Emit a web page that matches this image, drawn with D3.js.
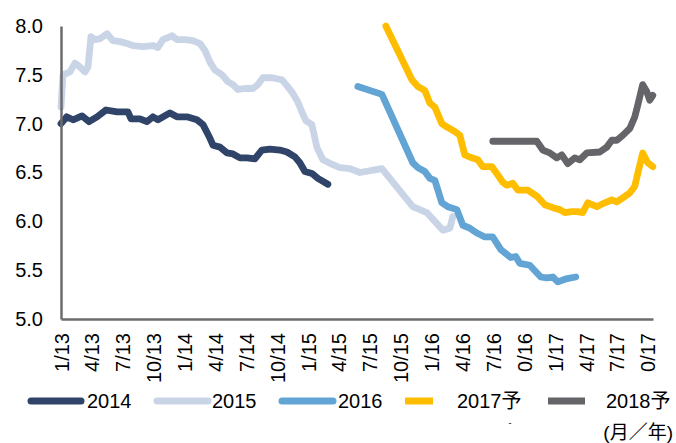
<html>
<head>
<meta charset="utf-8">
<title>Forecast lines</title>
<style>
  body { margin: 0; background: #fff; }
  text { font-family: "Liberation Sans", Arial, "Noto Sans CJK JP", sans-serif; fill: #000; }
  .line { fill: none; stroke-width: 6.8; stroke-linejoin: round; stroke-linecap: round; }
</style>
</head>
<body>
<script src="https://d3js.org/d3.v7.min.js"></script>
<script>
// x = months since Jan 2013, y = value
var xTickMonths = [0, 3, 6, 9, 12, 15, 18, 21, 24, 27, 30, 33, 36, 39, 42, 45, 48, 51, 54, 57];
var xLabels = ["1/13", "4/13", "7/13", "10/13", "1/14", "4/14", "7/14", "10/14", "1/15", "4/15",
               "7/15", "10/15", "1/16", "4/16", "7/16", "0/16", "1/17", "4/17", "7/17", "0/17"];
var yTicks = [5.0, 5.5, 6.0, 6.5, 7.0, 7.5, 8.0];

var seriesNames = ["2014", "2015", "2016", "2017予", "2018予"];
var seriesColors = ["#2F4468", "#C9D5E7", "#62A5D5", "#FFBD00", "#646469"];

var s2014 = [[0,7.00],[0.55,7.07],[1.17,7.04],[2.04,7.08],[2.72,7.02],[3.5,7.07],[4.37,7.14],[5.44,7.12],
  [6.5,7.12],[6.8,7.05],[7.67,7.05],[8.35,7.02],[8.93,7.07],[9.42,7.04],[10.58,7.11],[11.26,7.07],
  [12.23,7.07],[13.2,7.04],[13.79,6.99],[14.47,6.85],[14.76,6.78],[15.44,6.76],[16.12,6.70],[16.7,6.69],
  [17.38,6.65],[18.06,6.65],[18.83,6.64],[19.51,6.73],[20.29,6.74],[21.26,6.73],[21.94,6.71],[22.72,6.66],
  [23.2,6.60],[23.69,6.51],[24.37,6.49],[24.95,6.44],[25.92,6.38]];

var s2015 = [[0,7.17],[0.19,7.50],[0.87,7.53],[1.36,7.62],[1.84,7.58],[2.33,7.53],[2.62,7.58],[2.91,7.89],
  [3.3,7.86],[3.79,7.87],[4.47,7.92],[5.05,7.85],[5.73,7.84],[6.41,7.82],[6.99,7.80],[7.96,7.79],
  [8.93,7.80],[9.42,7.78],[9.9,7.86],[10.78,7.90],[11.26,7.86],[12.04,7.86],[12.82,7.85],[13.5,7.82],
  [13.98,7.75],[14.47,7.63],[14.95,7.55],[15.63,7.50],[16.21,7.43],[16.7,7.40],[17.18,7.35],[17.86,7.36],
  [18.64,7.36],[19.13,7.40],[19.61,7.47],[20.49,7.47],[21.46,7.45],[21.94,7.39],[22.52,7.31],[23.01,7.22],
  [23.4,7.12],[23.79,7.03],[24.37,6.99],[24.85,6.76],[25.44,6.63],[26.41,6.58],[27.09,6.55],[28.06,6.54],
  [29.03,6.50],[31.17,6.54],[34.17,6.15],[35.53,6.09],[36.31,6.00],[37.09,5.91],[37.77,5.93],[38.06,6.05]];

var s2016 = [[28.83,7.38],[31.17,7.30],[34.17,6.60],[34.66,6.55],[35.34,6.51],[35.83,6.44],[36.31,6.42],
  [36.99,6.19],[37.57,6.15],[38.45,6.12],[39.03,5.96],[39.71,5.93],[40.39,5.88],[41.17,5.84],[41.94,5.84],
  [42.72,5.71],[43.69,5.63],[44.17,5.64],[44.56,5.57],[45.53,5.55],[46.6,5.43],[47.18,5.42],[47.77,5.43],
  [48.25,5.38],[49.03,5.41],[50.0,5.43]];

var s2017 = [[31.55,8.00],[34.08,7.45],[34.66,7.38],[35.34,7.34],[35.83,7.21],[36.31,7.17],[36.99,7.00],
  [37.57,6.96],[38.25,6.92],[38.74,6.88],[39.22,6.68],[39.9,6.65],[40.49,6.63],[40.97,6.56],[41.84,6.56],
  [42.33,6.49],[42.91,6.40],[43.3,6.37],[43.88,6.39],[44.37,6.32],[45.34,6.32],[46.31,6.25],[46.99,6.17],
  [47.77,6.14],[48.45,6.12],[48.93,6.09],[49.61,6.10],[50.19,6.10],[50.68,6.09],[51.17,6.19],[52.04,6.15],
  [52.82,6.19],[53.5,6.22],[53.98,6.20],[54.56,6.24],[55.24,6.29],[55.73,6.36],[56.02,6.49],[56.5,6.70],
  [56.99,6.60],[57.48,6.56]];

var s2018 = [[41.94,6.82],[46.21,6.82],[46.8,6.73],[47.48,6.70],[48.16,6.65],[48.64,6.68],[49.22,6.59],
  [49.9,6.65],[50.39,6.63],[51.07,6.70],[52.33,6.71],[53.01,6.76],[53.5,6.83],[53.98,6.83],[54.56,6.88],
  [55.24,6.95],[55.73,7.07],[56.02,7.19],[56.5,7.40],[56.89,7.33],[57.18,7.24],[57.48,7.29]];

var allSeries = [s2014, s2015, s2016, s2017, s2018];

var W = 676, H = 443;
var margin = {top: 26, right: 23, bottom: 124, left: 61};
var width = W - margin.left - margin.right,
    height = H - margin.top - margin.bottom;

var svg = d3.select("body").append("svg")
    .attr("width", W)
    .attr("height", H);

var x = d3.scaleLinear().domain([0, 57.5]).range([0, width]);
var y = d3.scaleLinear().domain([5, 8]).range([height, 0]);

var chart = svg.append("g")
    .attr("transform", "translate(" + margin.left + "," + margin.top + ")");

var line = d3.line()
    .x(function(d){ return x(d[0]); })
    .y(function(d){ return y(d[1]); });

chart.selectAll(".line")
    .data(allSeries)
    .enter()
    .append("path")
    .attr("class", "line")
    .attr("stroke", function(d, i){ return seriesColors[i]; })
    .attr("d", line);

// y axis
var yAxis = chart.append("g")
    .call(d3.axisLeft(y).tickValues(yTicks).tickSize(0).tickSizeOuter(0).tickPadding(18)
        .tickFormat(d3.format(".1f")));
yAxis.selectAll("text").style("font-size", "20px").attr("fill", "#000");

// x axis
var xAxis = chart.append("g")
    .attr("transform", "translate(0," + height + ")")
    .call(d3.axisBottom(x).tickValues(xTickMonths).tickSize(0).tickSizeOuter(0)
        .tickFormat(function(d, i){ return xLabels[i]; }));
xAxis.selectAll("text")
    .style("font-size", "20px")
    .attr("fill", "#000")
    .attr("text-anchor", "end")
    .attr("y", 0)
    .attr("dy", "0.35em")
    .attr("transform", "translate(0,14) rotate(-90)")
    .attr("x", 0);

svg.selectAll(".domain")
    .attr("stroke", "#6C6C70")
    .attr("stroke-width", 2.5);

// legend
var legendLines = [[28, 84, "round"], [154, 211, "round"], [279, 336, "round"], [405, 433, "butt"], [548, 585, "butt"]];
var legendText = [87, 212, 338, 457, 606];
var legend = svg.append("g");
seriesNames.forEach(function(name, i){
    legend.append("line")
        .attr("x1", legendLines[i][0] + (legendLines[i][2] == "round" ? 3 : 0))
        .attr("x2", legendLines[i][1] - (legendLines[i][2] == "round" ? 3 : 0))
        .attr("y1", 401).attr("y2", 401)
        .attr("stroke", seriesColors[i])
        .attr("stroke-width", 7)
        .attr("stroke-linecap", legendLines[i][2]);
    legend.append("text")
        .attr("x", legendText[i])
        .attr("y", 408)
        .style("font-size", "20px")
        .text(name);
});

svg.append("text")
    .attr("x", 510).attr("y", 426)
    .attr("text-anchor", "middle")
    .style("font-size", "9px")
    .text("-");

svg.append("text")
    .attr("x", 673).attr("y", 439)
    .attr("text-anchor", "end")
    .style("font-size", "19px")
    .text("(月／年)");
</script>
</body>
</html>
